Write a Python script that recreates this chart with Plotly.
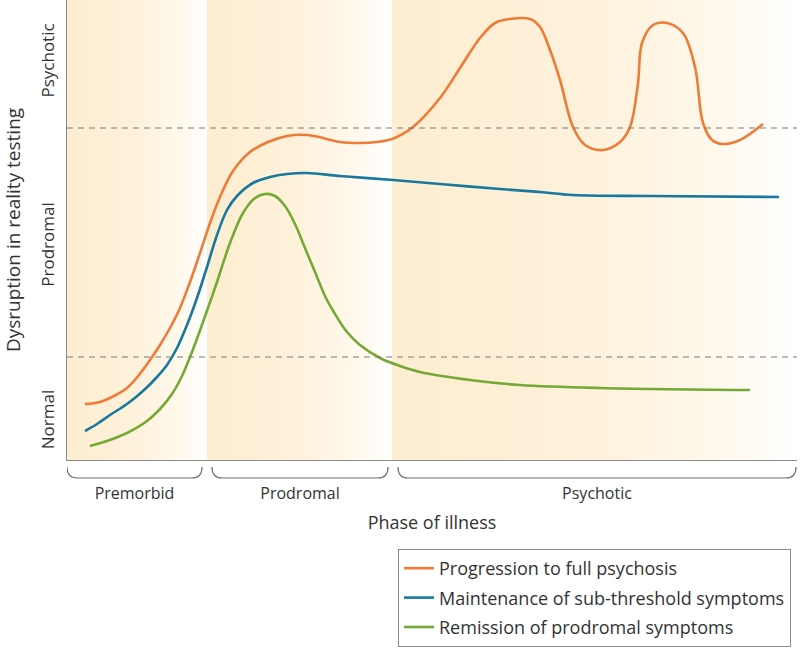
import plotly.graph_objects as go

# ---- data (time units along the illness course, disruption level) ----
phase_names = ["Premorbid", "Prodromal", "Psychotic"]
phase_bounds = [0, 140, 325, 730]
bracket_starts = [0, 145, 331]
bracket_ends = [135, 321, 729]

level_names = ["Normal", "Prodromal", "Psychotic"]
level_ticks = [38, 213, 397]
thresholds = [103, 332]

orange_t = [18, 25, 33, 45, 60, 72, 83, 93, 103, 113, 123, 133, 143, 153, 166, 183, 201, 220,
            240, 256, 273, 293, 310, 325, 346, 373, 393, 413, 428, 443, 463, 473, 483, 493,
            506, 518, 536, 553, 563, 571, 575, 586, 600, 616, 628, 636, 645, 656, 673, 696]
orange_d = [56, 56.5, 58, 63, 72, 85, 100, 115, 132, 152, 178, 207, 237, 263, 289, 308, 318, 324,
            325, 322, 318, 317, 318, 321, 333, 362, 392, 422, 437, 441, 441, 433, 410, 380,
            333, 315, 310, 318, 333, 377, 417, 435, 437, 427, 393, 337, 320, 316, 320, 336]

blue_t = [18, 30, 43, 60, 76, 90, 100, 110, 120, 130, 140, 150, 160, 170, 186, 203, 220, 240, 273,
          326, 373, 433, 473, 506, 583, 712]
blue_d = [29, 36, 45, 56, 69, 83, 95, 112, 135, 162, 193, 225, 250, 264, 277, 283, 286, 287, 284,
          280, 276, 271, 268, 265, 264, 263]

green_t = [23, 40, 60, 80, 93, 105, 115, 125, 136, 150, 163, 176, 188, 198, 208, 218, 228, 238,
           248, 258, 268, 280, 293, 313, 333, 353, 403, 453, 533, 683]
green_d = [14, 19, 27, 39, 51, 66, 84, 108, 138, 178, 217, 247, 262, 266, 264, 254, 236, 212,
           188, 164, 146, 128, 115, 102, 94, 88, 80, 75, 72, 70]

series = [
    ("Progression to full psychosis", orange_t, orange_d, "#ee7b36"),
    ("Maintenance of sub-threshold symptoms", blue_t, blue_d, "#18799c"),
    ("Remission of prodromal symptoms", green_t, green_d, "#74a935"),
]

Y_MAX = 460
FONT = "Open Sans"
TEXT = "#333333"

fig = go.Figure()

# phase background bands with horizontal gradient
band_scale = [[0, "#fdedd1"], [0.45, "#fef1da"], [0.8, "#fff8ec"], [1, "#ffffff"]]
for i in range(3):
    a, b = phase_bounds[i], phase_bounds[i + 1]
    fig.add_trace(go.Scatter(
        x=[a, b, b, a, a], y=[0, 0, Y_MAX, Y_MAX, 0],
        mode="lines", line=dict(width=0), fill="toself",
        fillgradient=dict(type="horizontal", colorscale=band_scale, start=a, stop=b),
        hoverinfo="skip", showlegend=False))

# threshold dashed lines
for th in thresholds:
    fig.add_shape(type="line", xref="paper", x0=0, x1=1, yref="y", y0=th, y1=th,
                  line=dict(color="#7a7a7a", width=1.2, dash="6px,5px"), layer="above")

for i, (name, t, d, c) in enumerate(series):
    fig.add_trace(go.Scatter(
        x=t, y=d, mode="lines", name=name, legendgroup=f"g{i}",
        line=dict(color=c, width=2.6, shape="spline", smoothing=1)))

# phase brackets below the axis
ytop = -7 / Y_MAX
ybot = -18 / Y_MAX
r = 10
for s, e in zip(bracket_starts, bracket_ends):
    path = (f"M {s},{ytop} Q {s},{ybot} {s + r},{ybot} L {e - r},{ybot} "
            f"Q {e},{ybot} {e},{ytop}")
    fig.add_shape(type="path", path=path, xref="x", yref="paper",
                  line=dict(color="#6e6e6e", width=1.2))

centers = [(s + e) / 2 for s, e in zip(bracket_starts, bracket_ends)]

fig.update_layout(
    width=800, height=654,
    margin=dict(l=67, r=3, t=0, b=194, autoexpand=False),
    plot_bgcolor="white", paper_bgcolor="white",
    font=dict(family=FONT, color=TEXT),
    xaxis=dict(range=[0, 730], showgrid=False, zeroline=False, automargin=False,
               showline=True, linecolor="#8a8a8a", linewidth=1.3,
               tickvals=centers, ticktext=phase_names, ticks="",
               ticklabelstandoff=19, tickfont=dict(size=16),
               title=dict(text="Phase of illness", font=dict(size=18), standoff=13)),
    yaxis=dict(range=[0, Y_MAX], showgrid=False, zeroline=False, automargin=False,
               showline=True, linecolor="#8a8a8a", linewidth=1.3,
               tickvals=level_ticks, ticktext=level_names, ticks="",
               tickangle=-90, ticklabelstandoff=5, tickfont=dict(size=17),
               title=dict(text="Dysruption in reality testing", font=dict(size=19), standoff=24)),
    legend=dict(x=(398 - 67) / 730, y=-(549 - 460) / Y_MAX, xanchor="left", yanchor="top",
                bordercolor="#8a8a8a", borderwidth=1, bgcolor="white",
                font=dict(size=18, color=TEXT), tracegroupgap=3, itemwidth=30),
    showlegend=True,
)

fig.write_html("out.html", post_script="document.body.style.margin='0';",
               config={"displayModeBar": False})
